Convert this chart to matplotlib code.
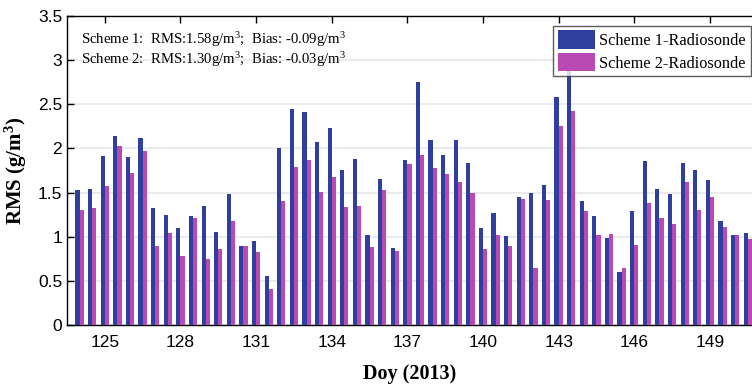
import numpy as np
import matplotlib
matplotlib.use("Agg")
import matplotlib.pyplot as plt

plt.rcParams["mathtext.fontset"] = "custom"
plt.rcParams["mathtext.rm"] = "Liberation Serif"
plt.rcParams["mathtext.it"] = "Liberation Serif:italic"
plt.rcParams["mathtext.bf"] = "Liberation Serif:bold"

doy = np.arange(124.0, 151.0, 0.5)  # two soundings per day
scheme1 = [1.53, 1.54, 1.91, 2.14, 1.90, 2.12, 1.33, 1.25, 1.10, 1.23,
           1.35, 1.05, 1.48, 0.89, 0.95, 0.55, 2.00, 2.45, 2.41, 2.07,
           2.23, 1.76, 1.88, 1.02, 1.65, 0.87, 1.87, 2.75, 2.09, 1.92,
           2.09, 1.84, 1.10, 1.27, 1.01, 1.45, 1.50, 1.59, 2.58, 2.90,
           1.40, 1.24, 0.98, 0.60, 1.29, 1.86, 1.54, 1.48, 1.83, 1.76,
           1.64, 1.18, 1.02, 1.04]
scheme2 = [1.30, 1.32, 1.58, 2.03, 1.72, 1.97, 0.90, 1.04, 0.78, 1.21,
           0.75, 0.86, 1.18, 0.90, 0.83, 0.41, 1.40, 1.79, 1.87, 1.51,
           1.68, 1.34, 1.35, 0.88, 1.53, 0.84, 1.82, 1.92, 1.78, 1.71,
           1.62, 1.49, 0.86, 1.02, 0.89, 1.43, 0.65, 1.42, 2.25, 2.42,
           1.29, 1.02, 1.03, 0.65, 0.91, 1.38, 1.21, 1.14, 1.62, 1.30,
           1.45, 1.11, 1.02, 0.97]
xticks = [125, 128, 131, 134, 137, 140, 143, 146, 149]
yticks = [0, 0.5, 1, 1.5, 2, 2.5, 3, 3.5]
labels = ["Scheme 1-Radiosonde", "Scheme 2-Radiosonde"]

c1 = "#2F3FA0"
c2 = "#B94AB3"

fig = plt.figure(figsize=(7.52, 3.85), dpi=100)
ax = fig.add_axes([67 / 752, 60 / 385, 1 - 67 / 752, 309 / 385])

w = 0.165
ax.bar(doy - w / 2, scheme1, width=w, color=c1, label=labels[0], zorder=3)
ax.bar(doy + w / 2, scheme2, width=w, color=c2, label=labels[1], zorder=3)

ax.set_xlim(123.5, 150.67)
ax.set_ylim(0, 3.5)
ax.set_xticks(xticks)
ax.set_yticks(yticks)
ax.set_yticklabels(["0", "0.5", "1", "1.5", "2", "2.5", "3", "3.5"])
ax.grid(axis="y", color="#E8E8E8", linewidth=1.2, zorder=0)
ax.set_axisbelow(True)
ax.spines["right"].set_visible(False)
for s in ["left", "bottom", "top"]:
    ax.spines[s].set_linewidth(1.0)
ax.tick_params(axis="both", direction="in", length=5, width=1,
               top=True, right=False, labelsize=12.5)
for lab in ax.get_xticklabels() + ax.get_yticklabels():
    lab.set_fontfamily("Liberation Sans")
ax.tick_params(axis="x", pad=7)

ax.set_xlabel("Doy (2013)", fontfamily="Liberation Serif", fontweight="bold",
              fontsize=14.5, labelpad=10)
ax.set_ylabel("RMS (g/m$\\mathbf{^3}$)", fontfamily="Liberation Serif",
              fontweight="bold", fontsize=15, labelpad=6)

ax.text(0.021, 0.925, "Scheme 1:  RMS:1.58g/m$^3$;  Bias: -0.09g/m$^3$",
        transform=ax.transAxes, fontfamily="Liberation Serif", fontsize=10.6,
        va="center", ha="left", zorder=5)
ax.text(0.021, 0.86, "Scheme 2:  RMS:1.30g/m$^3$;  Bias: -0.03g/m$^3$",
        transform=ax.transAxes, fontfamily="Liberation Serif", fontsize=10.6,
        va="center", ha="left", zorder=5)

leg = ax.legend(loc="upper right", bbox_to_anchor=(0.998, 0.969),
                prop={"family": "Liberation Serif", "size": 11.7},
                frameon=True, fancybox=False, edgecolor="#333333",
                handlelength=2.3, handleheight=1.35, borderpad=0.3,
                labelspacing=0.25, handletextpad=0.25, borderaxespad=0)
leg.get_frame().set_linewidth(1.0)
leg.set_zorder(6)

fig.savefig("out.png", dpi=100)
